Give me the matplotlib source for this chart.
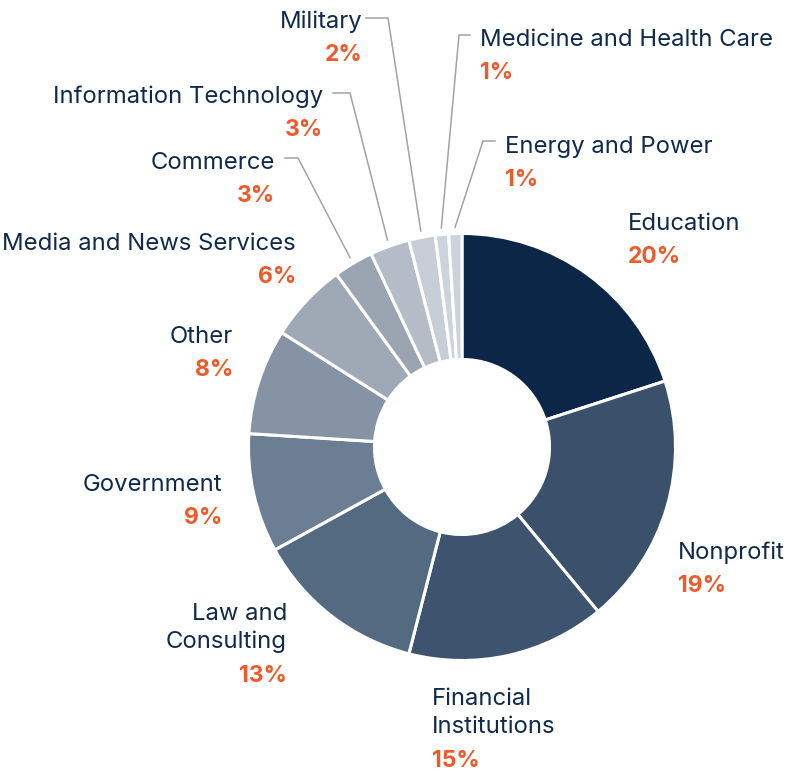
import numpy as np
import matplotlib.pyplot as plt

# sectors, clockwise from the top
sectors = ['Education', 'Nonprofit', 'Financial\nInstitutions', 'Law and\nConsulting',
           'Government', 'Other', 'Media and News Services', 'Commerce',
           'Information Technology', 'Military', 'Medicine and Health Care',
           'Energy and Power']
shares = [20, 19, 15, 13, 9, 8, 6, 3, 3, 2, 1, 1]
colors = ['#0c2647', '#3b516b', '#3d536e', '#536a80', '#6b7e93', '#8693a4',
          '#9ea9b5', '#9aa5b1', '#b4bcc7', '#c8ced8', '#cdd3dc', '#cdd3dc']

NAVY = '#0f2a4a'
ORANGE = '#f05a28'
plt.rcParams['font.family'] = ['Inter', 'DejaVu Sans']

W, H = 790, 771
fig = plt.figure(figsize=(W / 100, H / 100), dpi=100)
ax = fig.add_axes([0, 0, 1, 1])

cx, cy, R = 462, H - 447, 213.5
wedges, _ = ax.pie(shares, colors=colors, startangle=90, counterclock=False,
                   center=(cx, cy), radius=R, frame=True,
                   wedgeprops=dict(width=R * 0.59, edgecolor='white', linewidth=2.2))
ax.set_xlim(0, W)
ax.set_ylim(0, H)
ax.set_aspect('equal')
ax.axis('off')

# label placement (pixel coords from top-left): x, y of name line, alignment
layout = {
    'Education': (628, 224, 'left'),
    'Nonprofit': (678, 553, 'left'),
    'Financial\nInstitutions': (432, 713, 'left'),
    'Law and\nConsulting': (287, 628, 'right'),
    'Government': (222, 485, 'right'),
    'Other': (233, 337, 'right'),
    'Media and News Services': (296, 244, 'right'),
    'Commerce': (275, 163, 'right'),
    'Information Technology': (323, 97, 'right'),
    'Military': (363, 22, 'right'),
    'Medicine and Health Care': (480, 40, 'left'),
    'Energy and Power': (505, 147, 'left'),
}
# small sectors get leader lines: elbow x at the label's side
leaders = {
    'Commerce': (285, 298, 158),
    'Information Technology': (333, 350, 93),
    'Military': (366, 388, 18),
    'Medicine and Health Care': (470, 459, 35),
    'Energy and Power': (495, 483, 141),
}

for name, share, w in zip(sectors, shares, wedges):
    x, y, ha = layout[name]
    nlines = name.count('\n') + 1
    ax.text(x, H - y, name, ha=ha, va='center', fontsize=17.2, color=NAVY,
            linespacing=1.3)
    ax.text(x, H - y - 15 * (nlines - 1) - 33, f'{share}%', ha=ha, va='center',
            fontsize=16.5, color=ORANGE, fontweight='bold')
    if name in leaders:
        x0, x1, ly = leaders[name]
        mid = np.deg2rad((w.theta1 + w.theta2) / 2)
        ex = cx + R * 1.03 * np.cos(mid)
        ey = cy + R * 1.03 * np.sin(mid)
        ax.plot([x0, x1, ex], [H - ly, H - ly, ey], color='#a3a3a3', lw=1.1,
                solid_joinstyle='miter')

fig.savefig('out.png', dpi=100, facecolor='white')
